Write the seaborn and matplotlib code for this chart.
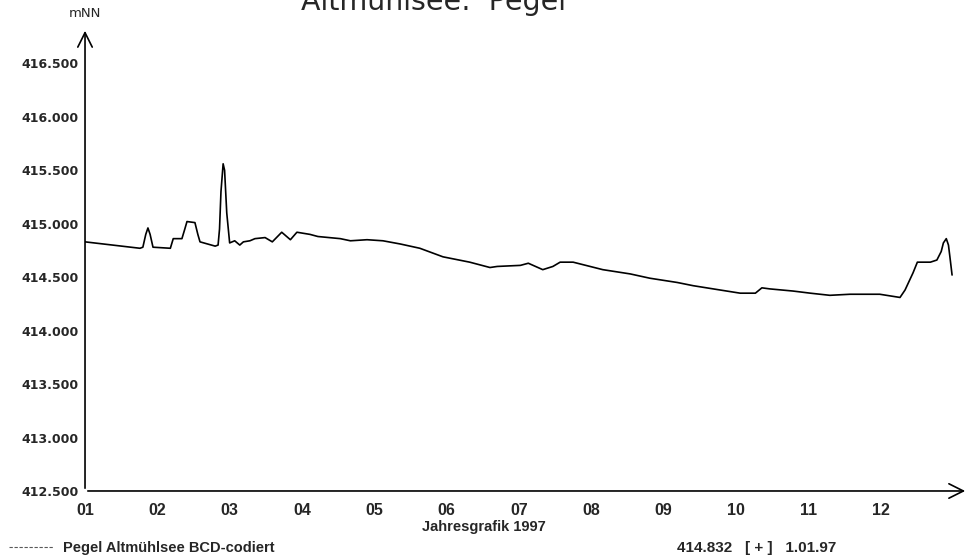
import matplotlib
matplotlib.use("Agg")
import matplotlib.pyplot as plt
from matplotlib.lines import Line2D
import seaborn as sns
import pandas as pd

# =========================
# DATA
# =========================

# position in months (1 = start of January)
monat = [1.00, 1.76, 1.80, 1.84, 1.87, 1.90, 1.94, 2.18, 2.22, 2.34, 2.38,
         2.41, 2.52, 2.56, 2.59, 2.80, 2.84, 2.86, 2.88, 2.91, 2.93, 2.96,
         3.00, 3.07, 3.14, 3.19, 3.28, 3.35, 3.49, 3.59, 3.72, 3.84, 3.93,
         4.11, 4.22, 4.53, 4.67, 4.90, 5.12, 5.36, 5.63, 5.95, 6.32, 6.60,
         6.70, 7.02, 7.13, 7.33, 7.47, 7.57, 7.75, 8.16, 8.54, 8.81, 9.19,
         9.41, 9.78, 10.06, 10.27, 10.36, 10.47, 10.79, 11.03, 11.30, 11.58,
         11.99, 12.27, 12.34, 12.45, 12.51, 12.69, 12.78, 12.84, 12.87, 12.91,
         12.94, 12.96, 12.99]

# water level in mNN
pegel = [414.83, 414.77, 414.78, 414.90, 414.96, 414.90, 414.78, 414.77,
         414.86, 414.86, 414.95, 415.02, 415.01, 414.90, 414.83, 414.79,
         414.80, 414.95, 415.30, 415.56, 415.50, 415.10, 414.82, 414.84,
         414.80, 414.83, 414.84, 414.86, 414.87, 414.83, 414.92, 414.85,
         414.92, 414.90, 414.88, 414.86, 414.84, 414.85, 414.84, 414.81,
         414.77, 414.69, 414.64, 414.59, 414.60, 414.61, 414.63, 414.57,
         414.60, 414.64, 414.64, 414.57, 414.53, 414.49, 414.45, 414.42,
         414.38, 414.35, 414.35, 414.40, 414.39, 414.37, 414.35, 414.33,
         414.34, 414.34, 414.31, 414.38, 414.54, 414.64, 414.64, 414.66,
         414.74, 414.82, 414.86, 414.80, 414.69, 414.52]

monate = ["01", "02", "03", "04", "05", "06", "07", "08", "09", "10", "11", "12"]
y_ticks = [412.5, 413.0, 413.5, 414.0, 414.5, 415.0, 415.5, 416.0, 416.5]

df = pd.DataFrame({"Monat": monat, "Pegel": pegel})

# =========================
# PLOT
# =========================

sns.set_style("white")
plt.rcParams["font.family"] = ["DejaVu Sans"]

fig = plt.figure(figsize=(9.75, 5.58), dpi=100)
ax = fig.add_axes([0.0872, 0.1201, 0.9056, 0.8297])

sns.lineplot(data=df, x="Monat", y="Pegel", color="black", linewidth=1.2,
             sort=False, estimator=None, ax=ax)

ax.set_xlim(1, 13.21)
ax.set_ylim(412.5, 416.83)

ax.set_xticks(range(1, 13))
ax.set_xticklabels(monate, family="Liberation Sans", weight="bold", fontsize=11.5)
ax.set_yticks(y_ticks)
ax.set_yticklabels([f"{v:.3f}" for v in y_ticks], family="DejaVu Sans",
                   weight="bold", fontsize=9)

ax.tick_params(axis="x", direction="out", length=5.5, width=1, pad=3.5, color="black")
ax.tick_params(axis="y", direction="out", length=4, width=1, pad=0.5, color="black")

for side in ["top", "right", "left", "bottom"]:
    ax.spines[side].set_visible(False)

# axes with arrow heads
ax.annotate("", xy=(1, 0), xytext=(0, 0), xycoords="axes fraction",
            arrowprops=dict(arrowstyle="->", lw=1.2, color="black", mutation_scale=26))
ax.annotate("", xy=(0, 1), xytext=(0, 0), xycoords="axes fraction",
            arrowprops=dict(arrowstyle="->", lw=1.2, color="black", mutation_scale=26))

ax.annotate("mNN", xy=(0, 1), xycoords="axes fraction", xytext=(0, 6),
            textcoords="offset points", ha="center", va="bottom", fontsize=9.5)

ax.set_xlabel("Jahresgrafik 1997", family="Liberation Sans", weight="bold", fontsize=10.5)
ax.xaxis.set_label_coords(0.452, -0.063)
ax.set_ylabel("")

# title (cut off at the top as in the scan)
fig.text(0.4446, 0.982, "Altmühlsee:  Pegel", fontsize=20.5, ha="center", va="baseline")

# legend line and info text at the bottom
leg_line = Line2D([], [], color="0.35", lw=0.8, linestyle=(0, (3, 1.5)))
fig.legend([leg_line], ["Pegel Altmühlsee BCD-codiert"], loc="lower left",
           bbox_to_anchor=(-0.004, -0.018), frameon=False, handlelength=3.0,
           handletextpad=0.7, prop=dict(family="Liberation Sans", weight="bold", size=10.5))

fig.text(0.694, 0.01, "414.832   [ + ]   1.01.97", family="Liberation Sans",
         weight="bold", fontsize=11, ha="left", va="baseline")

fig.savefig("out.png", dpi=100)
